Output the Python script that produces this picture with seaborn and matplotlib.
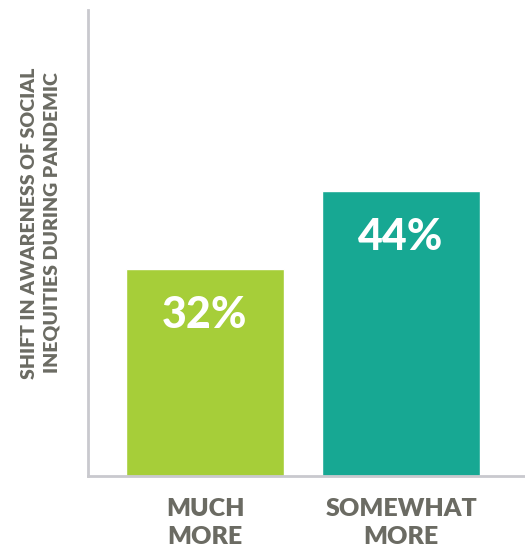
import matplotlib
matplotlib.use("Agg")
import matplotlib.pyplot as plt
import seaborn as sns
import pandas as pd

# ── Data ──────────────────────────────────────────────────────────────────
categories = ["MUCH\nMORE", "SOMEWHAT\nMORE"]
values = [32, 44]
bar_labels = ["32%", "44%"]
colors = ["#A6CE39", "#17A893"]
y_title = "SHIFT IN AWARENESS OF SOCIAL\nINEQUITIES DURING PANDEMIC"

TEXT_GRAY = "#6B6B63"
AXIS_GRAY = "#C9C9CE"

sns.set_theme(style="white")
plt.rcParams["font.family"] = ["Lato", "DejaVu Sans"]

df = pd.DataFrame({"cat": categories, "val": values})

fig = plt.figure(figsize=(5.25, 5.5), dpi=100)
ax = fig.add_axes([88 / 525, 74 / 550, 436 / 525, 466 / 550])

sns.barplot(data=df, x="cat", y="val", hue="cat", palette=colors,
            width=0.806, saturation=1, legend=False, ax=ax)

ax.set_xlim(-0.597, 1.627)
ax.set_ylim(0, 72)

# labels inside bars
for i, (v, lab) in enumerate(zip(values, bar_labels)):
    ax.annotate(lab, (i, v), xytext=(0, -33), textcoords="offset points",
                ha="center", va="center", color="white",
                fontsize=31, fontweight=900)

# axes styling
for side in ["top", "right"]:
    ax.spines[side].set_visible(False)
for side in ["left", "bottom"]:
    ax.spines[side].set_color(AXIS_GRAY)
    ax.spines[side].set_linewidth(2)

ax.set_yticks([])
ax.set_xticks(range(len(categories)))
ax.set_xticklabels(categories, fontsize=18, fontweight=800, color=TEXT_GRAY,
                   linespacing=1.3, va="top")
ax.tick_params(axis="x", length=0, pad=16)

ax.set_xlabel("")
ax.set_ylabel(y_title, fontsize=14, fontweight=800, color=TEXT_GRAY,
              linespacing=1.4)
ax.yaxis.set_label_coords(-0.063, 0.543)

plt.savefig("out.png", dpi=100)
plt.close()
